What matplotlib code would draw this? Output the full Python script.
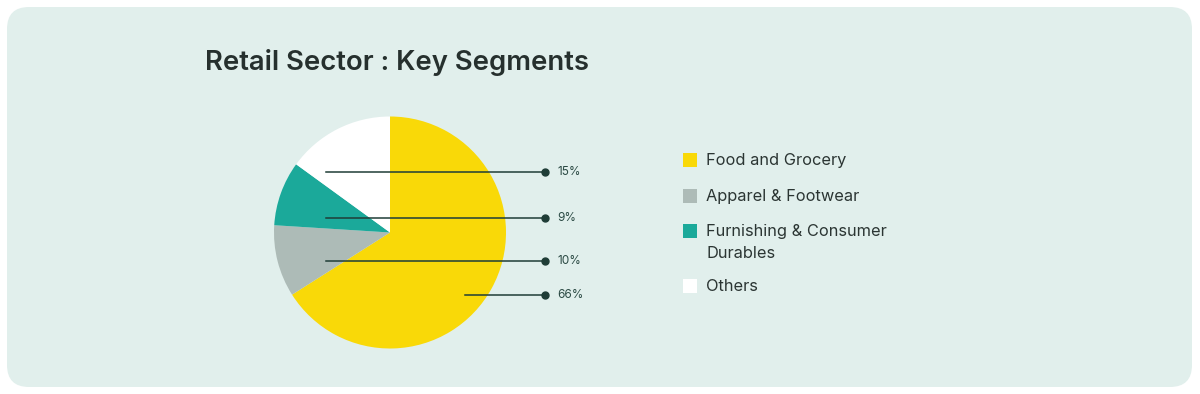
import matplotlib.pyplot as plt
from matplotlib.patches import FancyBboxPatch, Rectangle

plt.rcParams['font.family'] = ['Inter', 'DejaVu Sans']

segments = ['Food and Grocery', 'Apparel & Footwear', 'Furnishing & Consumer\nDurables', 'Others']
shares = [66, 10, 9, 15]
colors = ['#f9d908', '#adbbb7', '#1ba99a', '#ffffff']
pct_labels = ['66%', '10%', '9%', '15%']

bg = '#e1efec'
ink = '#26302e'
lead = '#1f3d37'

fig = plt.figure(figsize=(12, 3.94), dpi=100)
ax = fig.add_axes([0, 0, 1, 1])

card = FancyBboxPatch((7, 7), 1185, 380, boxstyle='round,pad=0,rounding_size=22',
                      facecolor=bg, edgecolor='none', zorder=0)
ax.add_patch(card)

ax.text(205, 62, 'Retail Sector : Key Segments', fontsize=19.8, fontweight='semibold',
        color=ink, va='center', ha='left')

# y axis is inverted, so counterclock=True draws clockwise on screen
ax.pie(shares, colors=colors, center=(390, 232.5), radius=116, startangle=-90,
       counterclock=True, frame=True, wedgeprops=dict(linewidth=0))
ax.set_xlim(0, 1200)
ax.set_ylim(394, 0)
ax.set_aspect('equal')
ax.axis('off')

# leader lines, in label order
leader_y = [295, 261, 218, 172]
leader_x0 = [465, 326, 326, 326]
for lab, x0, y in zip(pct_labels, leader_x0, leader_y):
    ax.plot([x0, 545], [y, y], color=lead, lw=1.1, zorder=5)
    ax.plot(545, y, 'o', color=lead, ms=5, zorder=6)
    ax.text(557, y, lab, fontsize=8.5, color='#2b4a44', va='center', ha='left')

# legend
leg_y = [160, 196, 231, 286]
for name, c, y in zip(segments, colors, leg_y):
    ax.add_patch(Rectangle((683, y - 7), 14, 14, facecolor=c, edgecolor='none', zorder=5))
    ax.text(706, y - 7, name, fontsize=11.8, color='#2b3533', va='top', ha='left',
            linespacing=1.6)

fig.savefig('out.png', dpi=100, facecolor='white')
